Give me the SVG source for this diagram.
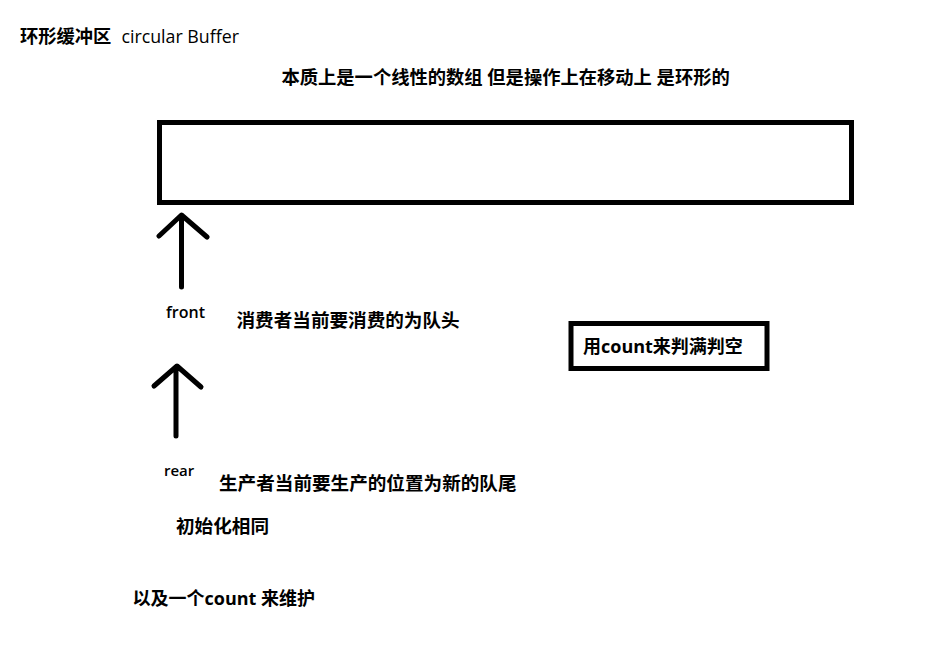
<svg xmlns="http://www.w3.org/2000/svg" width="949" height="663" viewBox="0 0 949 663">
<style>
.t{font-family:"Open Sans","Noto Sans CJK SC",sans-serif;font-weight:700;fill:#000}
.c{font-size:18.6px}
.l{font-family:"Open Sans",sans-serif;font-weight:600;fill:#000}
.box{fill:#fff;stroke:#000;stroke-width:5}
.arr{fill:none;stroke:#000;stroke-width:5;stroke-linecap:round;stroke-linejoin:round}
</style>
<rect width="949" height="663" fill="#fff"/>
<g id="title">
<text class="t" x="20" y="42.5" style="font-size:18.3px">环形缓冲区<tspan style="font-weight:400;font-size:17.8px" dx="10">circular Buffer</tspan></text>
</g>
<g id="subtitle">
<text class="t" x="281.5" y="84" style="font-size:18.3px">本质上是一个线性的数组 但是操作上在移动上 是环形的</text>
</g>
<g id="buffer">
<rect class="box" x="159.5" y="122.5" width="692" height="80"/>
</g>
<g id="connectors">
<path class="arr" d="M181.5 287 V216 M159 236 L181.5 215 L207 237"/>
<path class="arr" d="M176 436 V367 M154 386 L177 366 L201 387"/>
</g>
<g id="front">
<text class="l" x="166" y="318" style="font-size:16px">front</text>
<text class="t c" x="236.5" y="326.5">消费者当前要消费的为队头</text>
</g>
<g id="rear">
<text class="l" x="164" y="476" style="font-size:15px">rear</text>
<text class="t c" x="219" y="490">生产者当前要生产的位置为新的队尾</text>
</g>
<g id="init">
<text class="t c" x="176" y="532.5">初始化相同</text>
</g>
<g id="count-box">
<rect class="box" x="571" y="323.5" width="196" height="45"/>
<text class="t" x="583" y="353" style="font-size:18px">用count来判满判空</text>
</g>
<g id="count-note">
<text class="t" x="132.5" y="605" style="font-size:18px">以及一个count 来维护</text>
</g>
</svg>
